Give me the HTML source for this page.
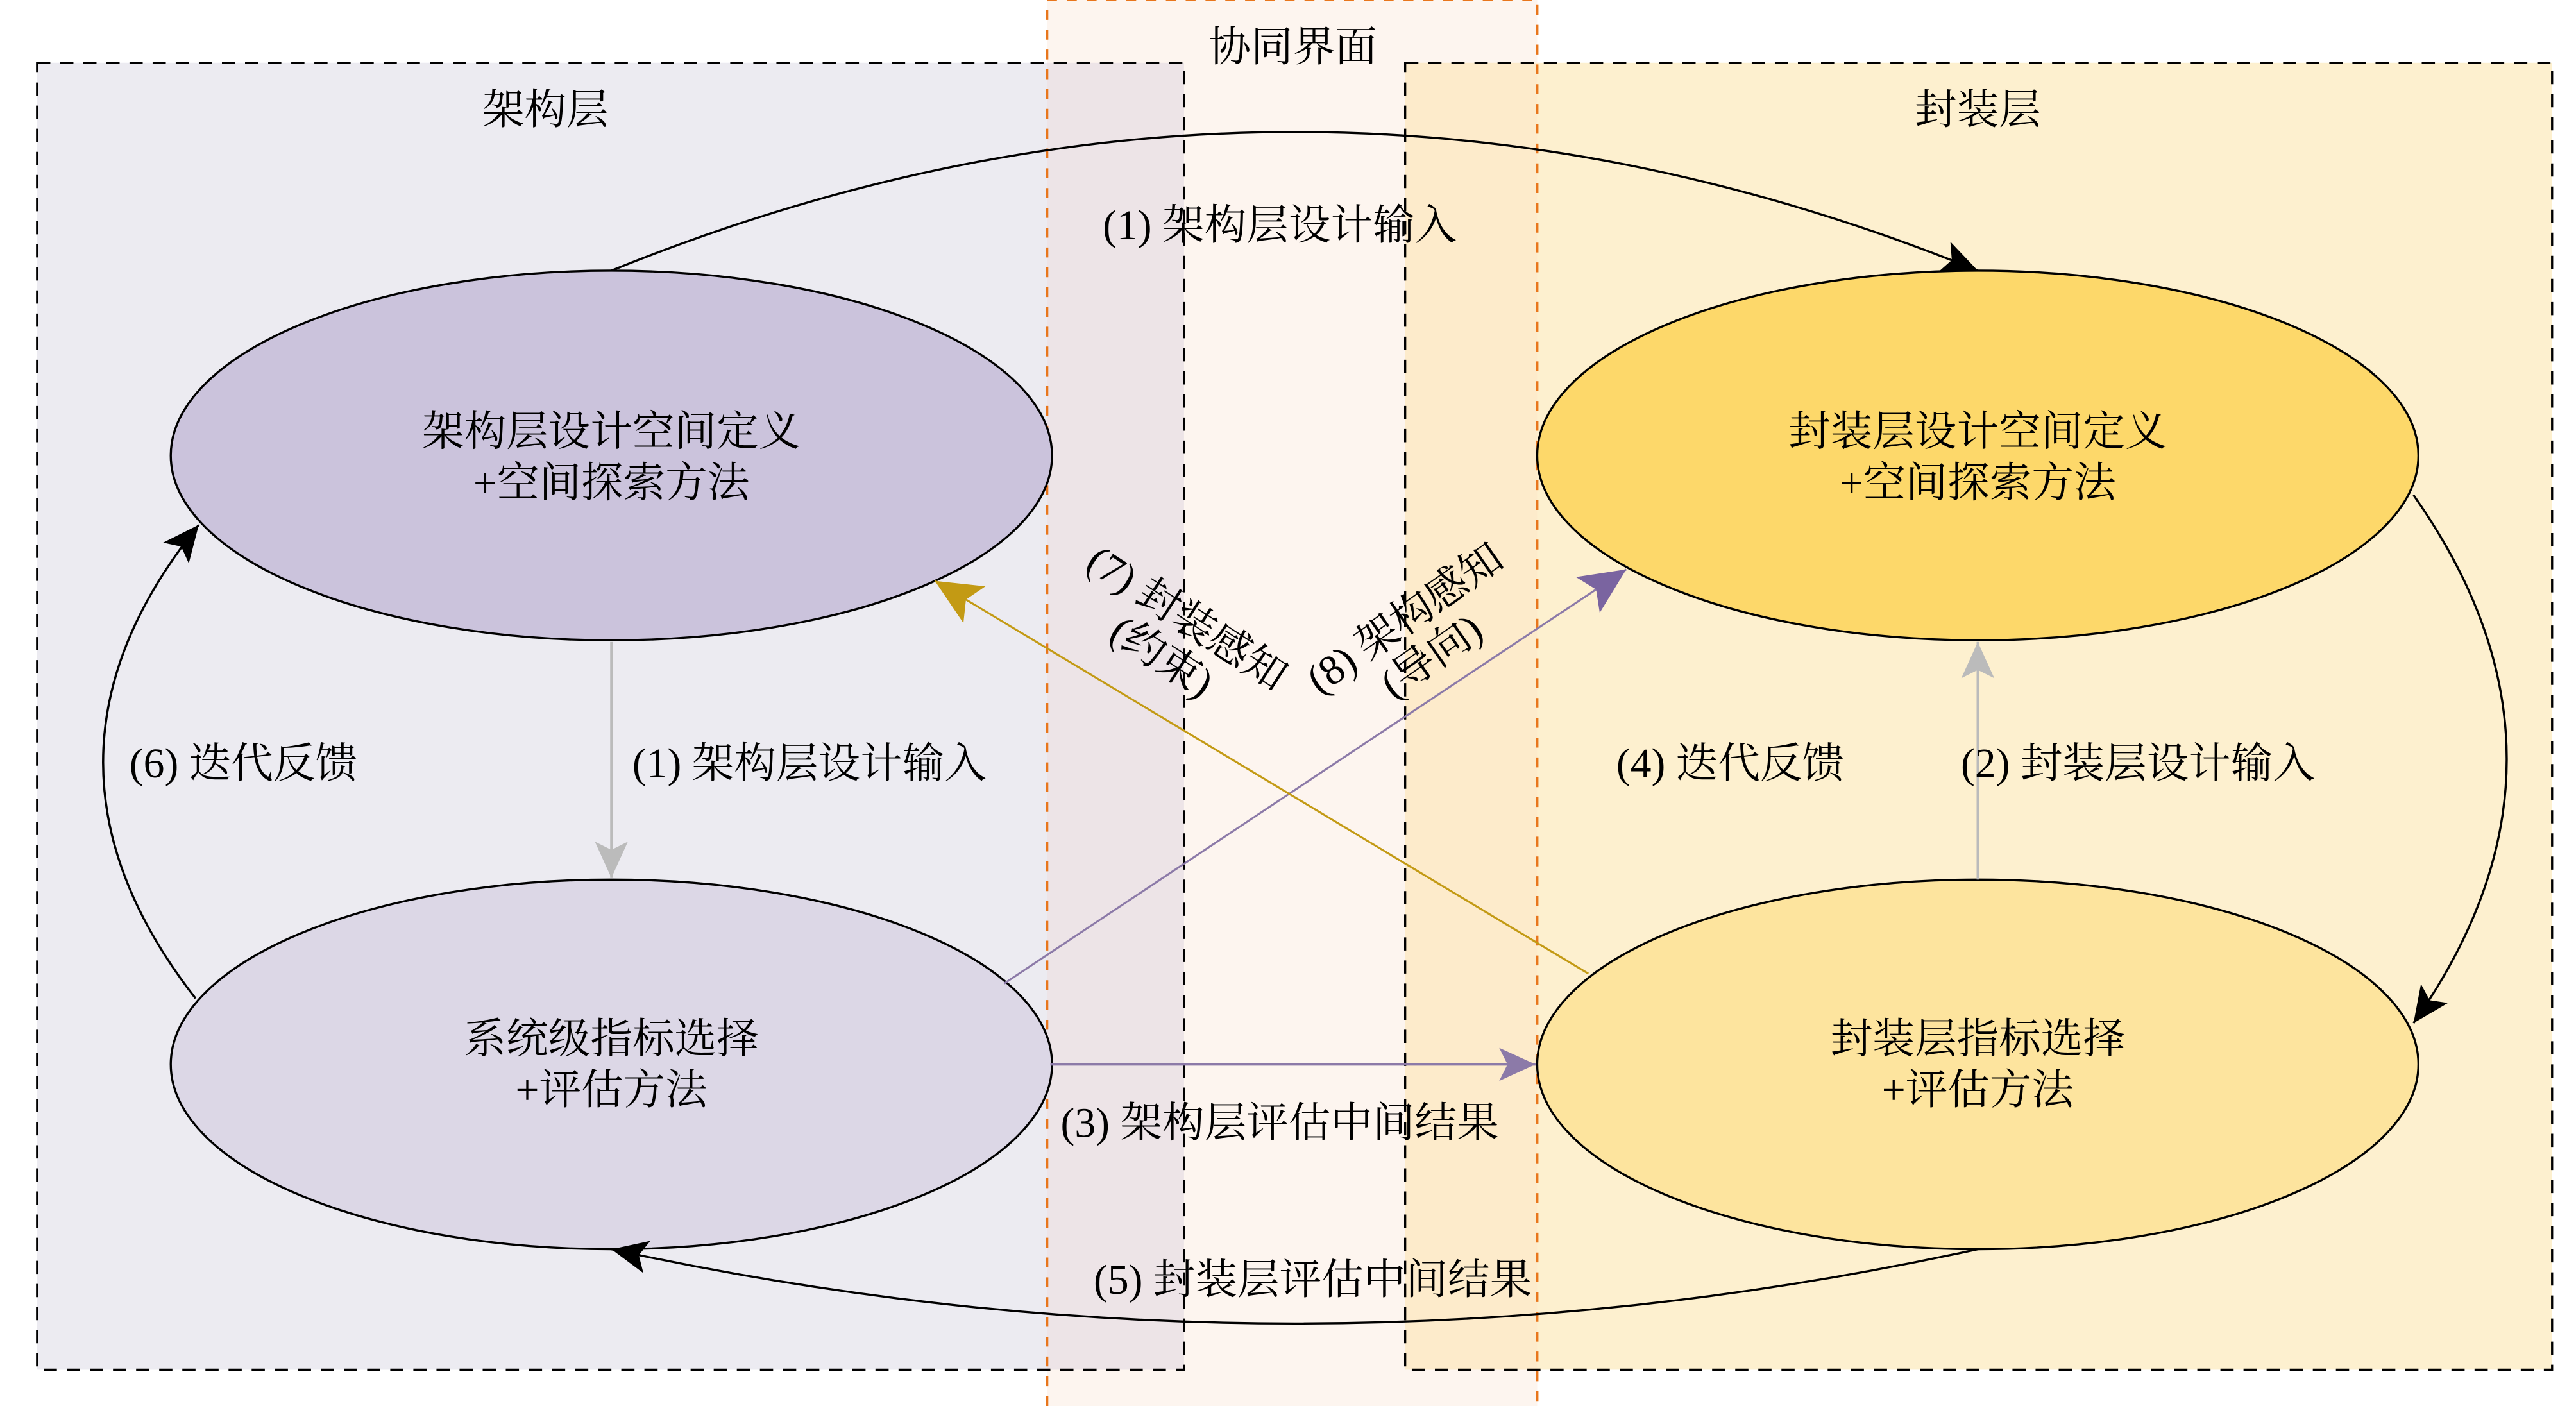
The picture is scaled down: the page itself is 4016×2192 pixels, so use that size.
<!DOCTYPE html>
<html><head><meta charset="utf-8"><style>
html,body{margin:0;padding:0;background:#fff;}
svg{display:block;}
text{font-family:"Liberation Serif","Noto Serif CJK SC",serif;font-size:25.5px;fill:#000;}
</style></head><body>
<svg width="4016" height="2192" viewBox="0 0 1560 852" xmlns="http://www.w3.org/2000/svg">
<defs>
<marker id="ak" markerUnits="userSpaceOnUse" markerWidth="30" markerHeight="30" refX="22" refY="10" orient="auto"><path d="M0,0 L22,10 L0,20 L5,10 Z" fill="#000"/></marker>
<marker id="ag" markerUnits="userSpaceOnUse" markerWidth="30" markerHeight="30" refX="22" refY="10" orient="auto"><path d="M0,0 L22,10 L0,20 L5,10 Z" fill="#bbbbbb"/></marker>
<marker id="ap" markerUnits="userSpaceOnUse" markerWidth="30" markerHeight="30" refX="22" refY="10" orient="auto"><path d="M0,0 L22,10 L0,20 L5,10 Z" fill="#8c7aa8"/></marker>
<marker id="ap2" markerUnits="userSpaceOnUse" markerWidth="40" markerHeight="40" refX="28" refY="13" orient="auto"><path d="M0,0 L28,13 L0,26 L6,13 Z" fill="#7a64a0"/></marker>
<marker id="ay" markerUnits="userSpaceOnUse" markerWidth="40" markerHeight="40" refX="28" refY="13" orient="auto"><path d="M0,0 L28,13 L0,26 L6,13 Z" fill="#c39a14"/></marker>
</defs>
<rect x="0" y="0" width="1560" height="852" fill="#fff"/>
<rect x="22" y="38" width="695" height="792" fill="#ecebf1"/>
<rect x="851" y="38" width="695" height="792" fill="#fdf0cf"/>
<rect x="634" y="0" width="297" height="855" fill="#fdf5ef"/>
<rect x="634" y="38" width="83" height="792" fill="#ede4e7"/>
<rect x="851" y="38" width="80" height="792" fill="#fdebcb"/>
<rect x="22" y="38" width="695" height="792" fill="none" stroke="#000" stroke-width="1.3" stroke-dasharray="8,6"/>
<rect x="851" y="38" width="695" height="792" fill="none" stroke="#000" stroke-width="1.3" stroke-dasharray="8,6"/>
<rect x="634" y="0" width="297" height="855" fill="none" stroke="#e8761c" stroke-width="1.5" stroke-dasharray="6,6"/>
<text x="783" y="37" text-anchor="middle">协同界面</text>
<text x="330" y="75" text-anchor="middle">架构层</text>
<text x="1198" y="75" text-anchor="middle">封装层</text>
<ellipse cx="370" cy="276" rx="267" ry="112" fill="#cbc3dc" stroke="#000" stroke-width="1.3"/>
<ellipse cx="370" cy="645" rx="267" ry="112" fill="#dcd7e6" stroke="#000" stroke-width="1.3"/>
<ellipse cx="1198" cy="276" rx="267" ry="112" fill="#fdd86a" stroke="#000" stroke-width="1.3"/>
<ellipse cx="1198" cy="645" rx="267" ry="112" fill="#fde49e" stroke="#000" stroke-width="1.3"/>
<text x="370" y="270" text-anchor="middle">架构层设计空间定义</text>
<text x="370" y="301" text-anchor="middle">+空间探索方法</text>
<text x="370" y="638" text-anchor="middle">系统级指标选择</text>
<text x="370" y="669" text-anchor="middle">+评估方法</text>
<text x="1198" y="270" text-anchor="middle">封装层设计空间定义</text>
<text x="1198" y="301" text-anchor="middle">+空间探索方法</text>
<text x="1198" y="638" text-anchor="middle">封装层指标选择</text>
<text x="1198" y="669" text-anchor="middle">+评估方法</text>
<path d="M370,164 Q784,-4 1198,164" fill="none" stroke="#000" stroke-width="1.3" marker-end="url(#ak)"/>
<path d="M1462,300 Q1575,460 1462,620" fill="none" stroke="#000" stroke-width="1.3" marker-end="url(#ak)"/>
<path d="M1198,757 Q784,847 370,757" fill="none" stroke="#000" stroke-width="1.3" marker-end="url(#ak)"/>
<path d="M118,605 Q5,460 120,318" fill="none" stroke="#000" stroke-width="1.3" marker-end="url(#ak)"/>
<line x1="370" y1="389" x2="370" y2="532" stroke="#bbbbbb" stroke-width="1.5" marker-end="url(#ag)"/>
<line x1="1198" y1="533" x2="1198" y2="389" stroke="#bbbbbb" stroke-width="1.5" marker-end="url(#ag)"/>
<line x1="636" y1="645" x2="930" y2="645" stroke="#8c7aa8" stroke-width="1.5" marker-end="url(#ap)"/>
<line x1="608" y1="596" x2="985" y2="345" stroke="#8c7aa8" stroke-width="1.2" marker-end="url(#ap2)"/>
<line x1="962" y1="590" x2="566" y2="352" stroke="#c39a14" stroke-width="1.2" marker-end="url(#ay)"/>
<text x="775" y="145" text-anchor="middle">(1) 架构层设计输入</text>
<text x="490" y="471" text-anchor="middle">(1) 架构层设计输入</text>
<text x="1295" y="471" text-anchor="middle">(2) 封装层设计输入</text>
<text x="147" y="471" text-anchor="middle">(6) 迭代反馈</text>
<text x="1048" y="471" text-anchor="middle">(4) 迭代反馈</text>
<text x="775" y="689" text-anchor="middle">(3) 架构层评估中间结果</text>
<text x="795" y="784" text-anchor="middle">(5) 封装层评估中间结果</text>
<g transform="translate(712,385) rotate(33)">
<text x="0" y="-4" text-anchor="middle">(7) 封装感知</text>
<text x="0" y="24" text-anchor="middle">(约束)</text>
</g>
<g transform="translate(858,385) rotate(-35)">
<text x="0" y="-4" text-anchor="middle">(8) 架构感知</text>
<text x="0" y="24" text-anchor="middle">(导向)</text>
</g>
</svg>
</body></html>
